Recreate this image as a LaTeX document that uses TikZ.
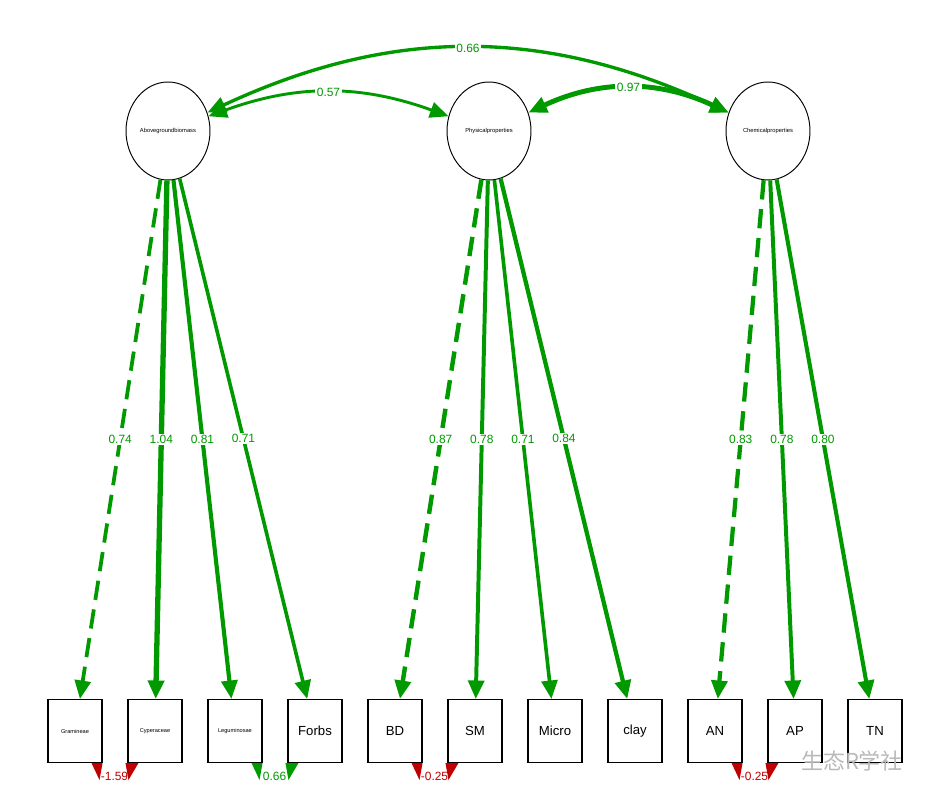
\documentclass[tikz,border=0pt]{standalone}
\usepackage{fontspec}
\setmainfont{Liberation Sans}
\newfontfamily\cjkfont{Noto Sans CJK SC}
\usetikzlibrary{arrows.meta,shapes.geometric}
\definecolor{posgreen}{HTML}{009900}
\definecolor{negred}{HTML}{BF0000}
\tikzset{
  lat/.style={draw, ellipse, line width=0.55pt, minimum width=1.68cm,
    minimum height=1.96cm, inner sep=0pt, font=\fontsize{3.3}{3.5}\selectfont},
  obs/.style={draw, rectangle, line width=0.6pt, minimum width=1.08cm,
    minimum height=1.26cm, inner sep=0pt, font=\fontsize{7.5}{8}\selectfont},
  smalltext/.style={font=\fontsize{3.2}{3.5}\selectfont},
  load/.style={draw=posgreen, -{Triangle[length=10.5pt,width=9pt]}},
  fixload/.style={load, dash pattern=on 11pt off 5.5pt},
  cov/.style={draw=posgreen,
    {Triangle[length=10.5pt,width=9pt]}-{Triangle[length=10.5pt,width=9pt]}},
  lbl/.style={fill=white, text=posgreen, inner sep=0.8pt,
    font=\fontsize{6.8}{7}\selectfont},
}
\begin{document}
\begin{tikzpicture}[x=0.02cm, y=-0.02cm]
\useasboundingbox (0,0) rectangle (934,800);
\node[lat] (abg) at (168,131) {Abovegroundbiomass};
\node[lat] (phys) at (489,131) {Physicalproperties};
\node[lat] (chem) at (768,131) {Chemicalproperties};
\node[obs, smalltext] (gram) at (75,731) {Gramineae};
\node[obs, smalltext] (cyp) at (155,731) {Cyperaceae};
\node[obs, smalltext] (leg) at (235,731) {Leguminosae};
\foreach \n/\x/\t in {forb/315/Forbs, bd/395/BD, sm/475/SM, micro/555/Micro,
    clay/635/clay, an/715/AN, ap/795/AP, tn/875/TN}
    \node[obs] (\n) at (\x,731) {\t};
\foreach \lat/\obs/\est in {abg/gram/0.74, phys/bd/0.87, chem/an/0.83}
    \draw[fixload, line width=\est*2.9pt] (\lat) -- node[lbl] {\est} (\obs);
\foreach \lat/\obs/\est in {abg/cyp/1.04, abg/leg/0.81, abg/forb/0.71,
    phys/sm/0.78, phys/micro/0.71, phys/clay/0.84, chem/ap/0.78, chem/tn/0.80}
    \draw[load, line width=\est*2.9pt] (\lat) -- node[lbl] {\est} (\obs);
\draw[cov, line width=0.57*2.9pt] (abg) to[bend left=20] node[lbl, midway] {0.57} (phys);
\draw[cov, line width=0.97*2.9pt] (phys) to[bend left=25] node[lbl, midway] {0.97} (chem);
\draw[cov, line width=0.66*2.9pt] (abg) to[bend left=25] node[lbl, midway] {0.66} (chem);
\foreach \a/\b/\est/\col in {gram/cyp/-1.59/negred, leg/forb/0.66/posgreen,
    bd/sm/-0.25/negred, an/ap/-0.25/negred}
    {
    \fill[fill=\col] (\a.south east) -- ++(-11,0) -- ++(8,17) -- cycle;
    \fill[fill=\col] (\b.south west) ++(-2,0) -- ++(13,0) -- ++(-10,17) -- cycle;
    \path (\a.south east) ++(12,13) node[text=\col, inner sep=0pt,
        font=\fontsize{6.8}{7}\selectfont] (r\a) {\est};
    }
\node[text=gray!55, font=\cjkfont\fontsize{12.5}{12.5}\selectfont] (wm) at (852,761) {生态R学社};
\end{tikzpicture}
\end{document}
